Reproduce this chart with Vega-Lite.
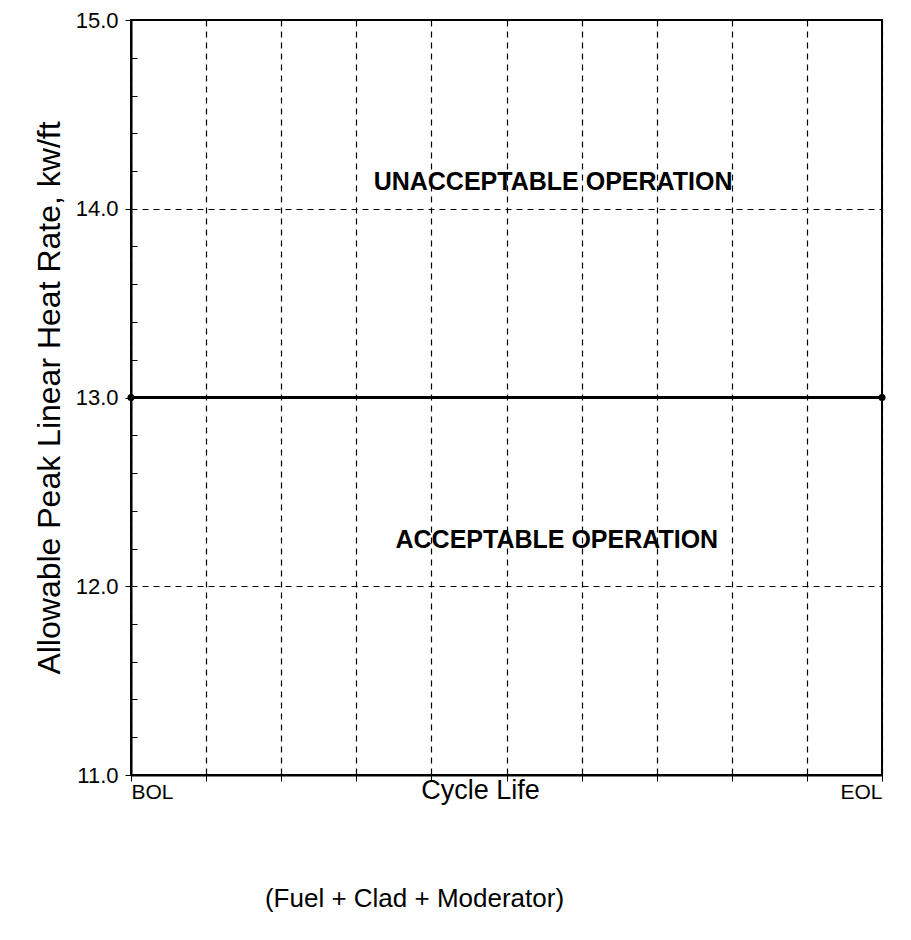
{
  "$schema": "https://vega.github.io/schema/vega-lite/v6.json",
  "autosize": "none",
  "width": 751,
  "height": 755,
  "padding": {"left": 131, "top": 20, "right": 29, "bottom": 165},
  "background": "white",
  "config": {
    "font": "Liberation Sans",
    "view": {"stroke": "black", "strokeWidth": 2},
    "axis": {"domainColor": "black", "domainWidth": 2, "tickColor": "black", "labelColor": "black", "titleColor": "black", "gridColor": "black", "gridDash": [6, 5], "gridWidth": 1.2}
  },
  "title": {
    "text": "(Fuel + Clad + Moderator)",
    "orient": "bottom",
    "anchor": "middle",
    "dx": -92,
    "offset": 83,
    "fontSize": 26,
    "fontWeight": "normal",
    "color": "black",
    "font": "Liberation Sans"
  },
  "layer": [
    {
      "data": {"values": [{"stage": 0, "rate": 13.0}, {"stage": 10, "rate": 13.0}]},
      "mark": {"type": "line", "color": "black", "strokeWidth": 3},
      "encoding": {
        "x": {
          "field": "stage", "type": "quantitative",
          "scale": {"domain": [0, 10], "nice": false, "zero": false},
          "axis": {
            "values": [0, 1, 2, 3, 4, 5, 6, 7, 8, 9, 10],
            "tickCount": 20,
            "labelExpr": "datum.value == 0 ? 'BOL' : (datum.value == 10 ? 'EOL' : '')",
            "labelFlush": true,
            "labelOverlap": false,
            "labelFontSize": 21,
            "labelPadding": 0,
            "tickSize": 6,
            "grid": true,
            "title": "Cycle Life",
            "titleFontSize": 27,
            "titleFontWeight": "normal",
            "titleX": 349,
            "titleY": 2,
            "titleBaseline": "top"
          }
        },
        "y": {
          "field": "rate", "type": "quantitative",
          "scale": {"domain": [11, 15], "nice": false, "zero": false},
          "axis": {
            "values": [11, 11.2, 11.4, 11.6, 11.8, 12, 12.2, 12.4, 12.6, 12.8, 13, 13.2, 13.4, 13.6, 13.8, 14, 14.2, 14.4, 14.6, 14.8, 15],
            "tickCount": 40,
            "labelExpr": "abs(datum.value - round(datum.value)) < 0.01 ? format(datum.value, '.1f') : ''",
            "labelOverlap": false,
            "labelFontSize": 22,
            "labelPadding": 7,
            "tickSize": {"condition": {"test": "abs(datum.value - round(datum.value)) < 0.01", "value": 6}, "value": -6},
            "grid": true,
            "gridColor": {"condition": {"test": "abs(datum.value - round(datum.value)) < 0.01", "value": "black"}, "value": "transparent"},
            "title": "Allowable Peak Linear Heat Rate, kw/ft",
            "titleFontSize": 32,
            "titleFontWeight": "normal",
            "titlePadding": 9
          }
        }
      }
    },
    {
      "data": {"values": [{"stage": 0, "rate": 13.0}, {"stage": 10, "rate": 13.0}]},
      "mark": {"type": "point", "filled": true, "color": "black", "size": 50, "opacity": 1},
      "encoding": {
        "x": {"field": "stage", "type": "quantitative"},
        "y": {"field": "rate", "type": "quantitative"}
      }
    },
    {
      "data": {"values": [
        {"stage": 5.62, "rate": 14.14, "label": "UNACCEPTABLE OPERATION"},
        {"stage": 5.67, "rate": 12.245, "label": "ACCEPTABLE OPERATION"}
      ]},
      "mark": {"type": "text", "fontSize": 25, "fontWeight": "bold", "color": "black", "align": "center", "baseline": "middle"},
      "encoding": {
        "x": {"field": "stage", "type": "quantitative"},
        "y": {"field": "rate", "type": "quantitative"},
        "text": {"field": "label"}
      }
    }
  ]
}
